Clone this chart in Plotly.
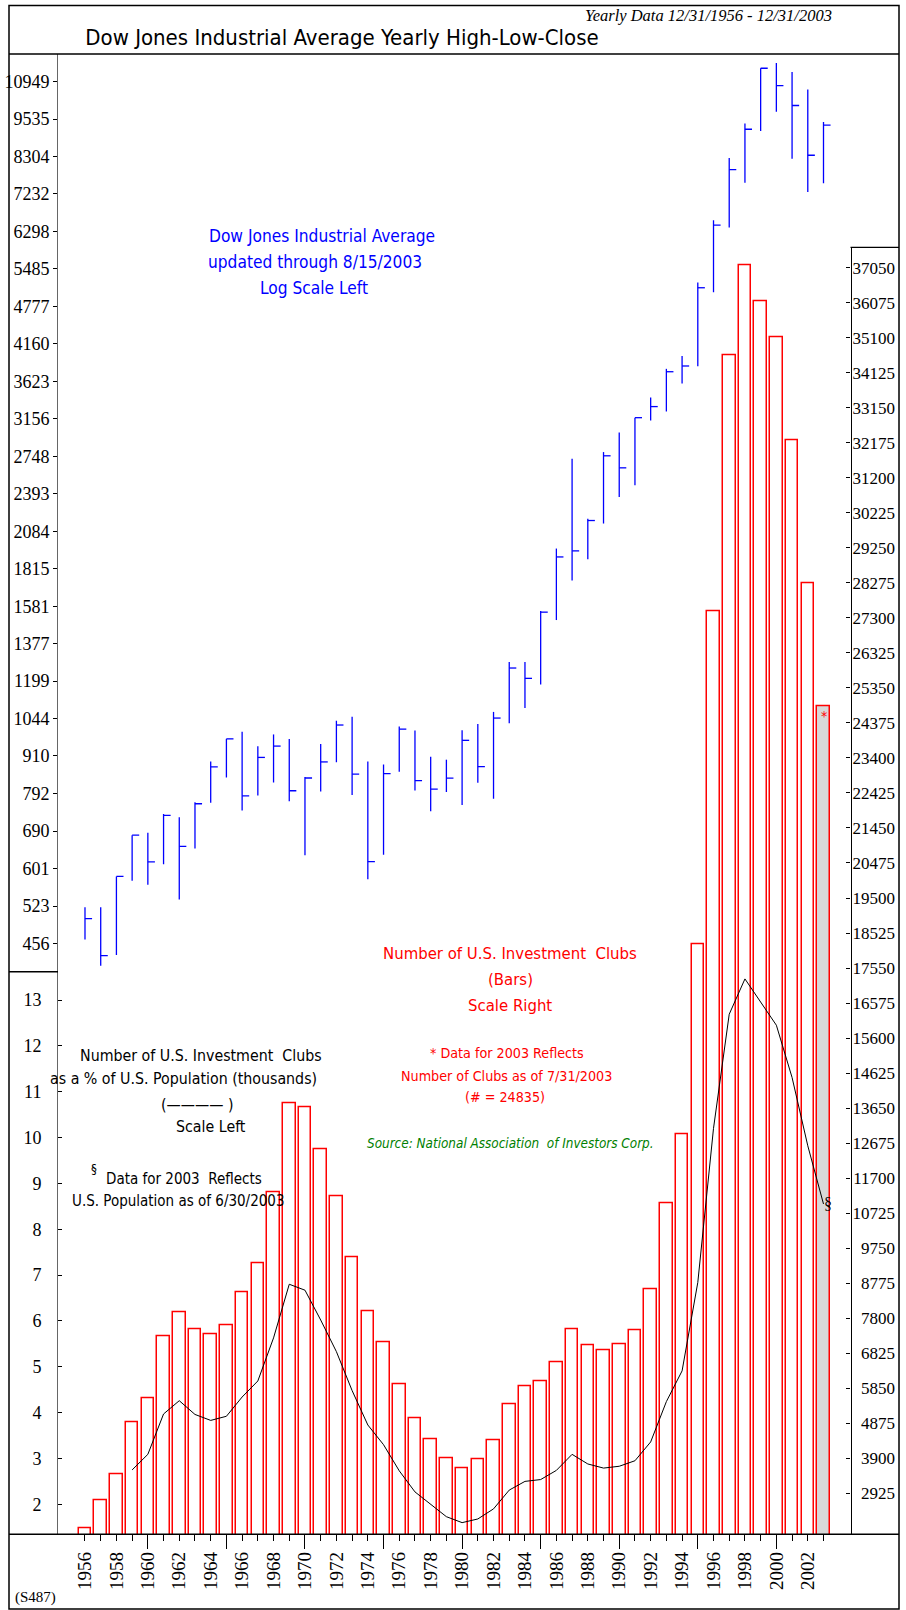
import plotly.graph_objects as go

# ---------------- data ----------------
years = list(range(1956, 2004))

dow_high = [521.05, 520.77, 583.65, 679.36, 685.47, 734.91, 726.01, 767.21, 891.71, 969.26,
            995.15, 943.08, 985.21, 968.85, 842.00, 950.82, 1036.27, 1051.70, 891.66, 881.81,
            1014.79, 999.75, 907.74, 897.61, 1000.17, 1024.05, 1070.55, 1287.20, 1286.64, 1553.10,
            1955.57, 2722.42, 2183.50, 2791.41, 2999.75, 3168.83, 3413.21, 3794.33, 3978.36, 5216.47,
            6560.91, 8259.31, 9374.27, 11497.12, 11722.98, 11337.92, 10635.25, 9428.90]
dow_low = [462.35, 419.79, 436.89, 574.46, 566.05, 610.25, 535.76, 646.79, 766.08, 840.59,
           744.32, 786.41, 825.13, 769.93, 631.16, 797.97, 889.15, 788.31, 577.60, 632.04,
           858.71, 800.85, 742.12, 796.67, 759.13, 824.01, 776.92, 1027.04, 1086.57, 1184.96,
           1502.29, 1738.74, 1879.14, 2144.64, 2365.10, 2470.30, 3136.58, 3241.95, 3593.35, 3832.08,
           5032.94, 6391.69, 7539.07, 9120.67, 9796.03, 8235.81, 7286.27, 7524.06]
dow_close = [499.47, 435.69, 583.65, 679.36, 615.89, 731.14, 652.10, 762.95, 874.13, 969.26,
             785.69, 905.11, 943.75, 800.36, 838.92, 890.20, 1020.02, 850.86, 616.24, 852.41,
             1004.65, 831.17, 805.01, 838.74, 963.99, 875.00, 1046.54, 1258.64, 1211.57, 1546.67,
             1895.95, 1938.83, 2168.57, 2753.20, 2633.66, 3168.83, 3301.11, 3754.09, 3834.44, 5117.12,
             6448.27, 7908.25, 9181.43, 11497.12, 10786.85, 10021.50, 8341.63, 9321.69]

club_counts = [1952, 2740, 3445, 4893, 5580, 7295, 7952, 7496, 7354, 7613,
               8526, 9325, 11299, 13788, 13674, 12502, 11185, 9497, 7983, 7125,
               5950, 5006, 4436, 3893, 3634, 3865, 4408, 5407, 5895, 6037,
               6582, 7496, 7039, 6894, 7067, 7468, 8612, 11012, 12930, 18220,
               27486, 34608, 37125, 36123, 35123, 32233, 28257, 24835]

pct_years = list(range(1959, 2004))
pct_population = [2.75, 3.09, 3.97, 4.26, 3.96, 3.83, 3.92, 4.34, 4.69, 5.63,
                  6.80, 6.67, 6.02, 5.33, 4.48, 3.73, 3.30, 2.73, 2.27, 1.99,
                  1.73, 1.60, 1.68, 1.90, 2.31, 2.50, 2.54, 2.74, 3.09, 2.88,
                  2.79, 2.83, 2.95, 3.36, 4.24, 4.91, 6.84, 10.20, 12.69, 13.46,
                  12.95, 12.45, 11.31, 9.82, 8.55]

dow_ticks = [456, 523, 601, 690, 792, 910, 1044, 1199, 1377, 1581, 1815, 2084, 2393, 2748,
             3156, 3623, 4160, 4777, 5485, 6298, 7232, 8304, 9535, 10949]
pct_ticks = [2, 3, 4, 5, 6, 7, 8, 9, 10, 11, 12, 13]
club_ticks = [2925, 3900, 4875, 5850, 6825, 7800, 8775, 9750, 10725, 11700, 12675, 13650,
              14625, 15600, 16575, 17550, 18525, 19500, 20475, 21450, 22425, 23400, 24375,
              25350, 26325, 27300, 28275, 29250, 30225, 31200, 32175, 33150, 34125, 35100,
              36075, 37050]
year_labels = [str(y) if y % 2 == 0 else "" for y in years]
major_year_ticks = [1960, 1965, 1970, 1975, 1980, 1985, 1990, 1995, 2000]

# ---------------- geometry helpers ----------------
W, H = 906, 1610


def fx(px):
    return px / W


def fy(py):
    return 1 - py / H


SERIF = "Liberation Serif, Times New Roman, serif"
NARROW = "Liberation Sans Narrow, Arial Narrow, DejaVu Sans Condensed, sans-serif"

TICK_W = 0.45  # close-tick length in years
X_RANGE = [1954.282, 2007.805]
Y_DOW_RANGE = [2.61347, 4.08344]
Y_CLUB_RANGE = [1783.4, 37618]
Y_PCT_RANGE = [1.3457, 13.6172]

fig = go.Figure()

# Investment club bars (right scale)
bar_fill = ["white"] * (len(years) - 1) + ["#d9d9d9"]
fig.add_trace(go.Bar(x=years, y=club_counts, xaxis="x", yaxis="y2", width=0.8,
                     marker=dict(color=bar_fill, line=dict(color="#ff0000", width=1.5)),
                     hoverinfo="x+y", showlegend=False))

# Dow HLC
hx, hy = [], []
for yr, h, l, c in zip(years, dow_high, dow_low, dow_close):
    hx += [yr, yr, None, yr, yr + TICK_W, None]
    hy += [l, h, None, c, c, None]
fig.add_trace(go.Scatter(x=hx, y=hy, xaxis="x", yaxis="y", mode="lines",
                         line=dict(color="#0000ff", width=1.3), showlegend=False,
                         hoverinfo="skip"))

# Clubs as % of population line (left bottom scale)
fig.add_trace(go.Scatter(x=pct_years, y=pct_population, xaxis="x", yaxis="y3", mode="lines",
                         line=dict(color="black", width=1), showlegend=False))

# helper (empty) traces so the extra axes get drawn
fig.add_trace(go.Scatter(x=[], y=[], xaxis="x2", yaxis="y3", showlegend=False, hoverinfo="skip"))
fig.add_trace(go.Scatter(x=[], y=[], xaxis="x", yaxis="y4", showlegend=False, hoverinfo="skip"))

fig.update_layout(
    width=W, height=H,
    margin=dict(l=0, r=0, t=0, b=0),
    paper_bgcolor="white", plot_bgcolor="rgba(0,0,0,0)",
    showlegend=False, bargap=0,
    title=dict(text="Dow Jones Industrial Average Yearly High-Low-Close",
               x=fx(342), y=fy(37), xref="paper", yref="paper", xanchor="center", yanchor="middle",
               font=dict(family=NARROW, size=22, color="black")),
    xaxis=dict(domain=[fx(58), fx(899)], range=X_RANGE, anchor="y3",
               tickmode="array", tickvals=years, ticktext=year_labels,
               ticks="outside", ticklen=6, tickcolor="black", tickwidth=1,
               tickangle=-90, tickfont=dict(family=SERIF, size=19, color="black"),
               ticklabelstandoff=3,
               showline=False, showgrid=False, zeroline=False),
    xaxis2=dict(overlaying="x", anchor="y3", range=X_RANGE,
                tickmode="array", tickvals=major_year_ticks, ticks="outside", ticklen=14,
                tickcolor="black", tickwidth=1, showticklabels=False,
                showline=False, showgrid=False, zeroline=False),
    yaxis=dict(type="log", domain=[fy(971.7), fy(54)], range=Y_DOW_RANGE, anchor="x",
               tickmode="array", tickvals=dow_ticks, ticktext=[str(t) for t in dow_ticks],
               ticks="outside", ticklen=4, tickcolor="black",
               tickfont=dict(family=SERIF, size=18, color="black"),
               showline=True, linecolor="#666666", linewidth=1,
               showgrid=False, zeroline=False),
    yaxis2=dict(domain=[fy(1534.3), fy(247.3)], range=Y_CLUB_RANGE, anchor="free",
                position=fx(850.5), side="right",
                tickmode="array", tickvals=club_ticks, ticks="inside", ticklen=4,
                tickcolor="black", showticklabels=False,
                showline=True, linecolor="black", linewidth=1.2,
                showgrid=False, zeroline=False),
    yaxis4=dict(domain=[fy(1534.3), fy(247.3)], range=Y_CLUB_RANGE, anchor="free",
                position=fx(895), side="left",
                tickmode="array", tickvals=club_ticks, ticktext=[str(t) for t in club_ticks],
                ticks="", tickfont=dict(family=SERIF, size=17, color="black"),
                showline=False, showgrid=False, zeroline=False),
    yaxis3=dict(domain=[fy(1534.3), fy(971.7)], range=Y_PCT_RANGE, anchor="x",
                tickmode="array", tickvals=pct_ticks, ticktext=[str(t) for t in pct_ticks],
                ticks="inside", ticklen=4, tickcolor="black", ticklabelstandoff=12,
                tickfont=dict(family=SERIF, size=18, color="black"),
                showline=True, linecolor="#666666", linewidth=1,
                showgrid=False, zeroline=False),
)

# frame and separators
shapes = [
    dict(type="rect", xref="paper", yref="paper", x0=fx(9), x1=fx(899), y0=fy(1609), y1=fy(5.5),
         line=dict(color="black", width=1.5)),
    dict(type="line", xref="paper", yref="paper", x0=fx(9), x1=fx(899), y0=fy(54), y1=fy(54),
         line=dict(color="black", width=1.5)),
    dict(type="line", xref="paper", yref="paper", x0=fx(9), x1=fx(58), y0=fy(971.7), y1=fy(971.7),
         line=dict(color="black", width=1.5)),
    dict(type="line", xref="paper", yref="paper", x0=fx(9), x1=fx(899), y0=fy(1534.3), y1=fy(1534.3),
         line=dict(color="black", width=1.5)),
    dict(type="line", xref="paper", yref="paper", x0=fx(850.5), x1=fx(899), y0=fy(247.3), y1=fy(247.3),
         line=dict(color="black", width=1.2)),
]
fig.update_layout(shapes=shapes)


def note(text, px, py, size, color="black", family=NARROW, xanchor="center", style="normal"):
    fig.add_annotation(text=text, x=fx(px), y=fy(py), xref="paper", yref="paper",
                       showarrow=False, xanchor=xanchor, yanchor="middle",
                       font=dict(family=family, size=size, color=color, style=style))


note("Yearly Data 12/31/1956 - 12/31/2003", 834, 15.5, 16.5, family=SERIF, xanchor="right", style="italic")

note("Dow Jones Industrial Average", 321.5, 236, 17.2, color="#0000ff")
note("updated through 8/15/2003", 315.4, 262, 17.2, color="#0000ff")
note("Log Scale Left", 314.3, 288, 17.2, color="#0000ff")

note("Number of U.S. Investment  Clubs", 510, 953, 16.6, color="#ff0000")
note("(Bars)", 510.5, 979, 16.6, color="#ff0000")
note("Scale Right", 510, 1005.6, 16.6, color="#ff0000")

note("* Data for 2003 Reflects", 507, 1053, 14.2, color="#ff0000")
note("Number of Clubs as of 7/31/2003", 506.4, 1075.5, 14.2, color="#ff0000")
note("(# = 24835)", 505, 1097, 14.2, color="#ff0000")

note("Source: National Association  of Investors Corp.", 510.5, 1143.3, 13.4, color="#008000", style="italic")

note("Number of U.S. Investment  Clubs", 201.3, 1055, 15.8)
note("as a % of U.S. Population (thousands)", 183.9, 1078.6, 15.8)
note("(———— )", 196.7, 1104, 15.8)
note("Scale Left", 210.6, 1126.8, 15.8)

note("§", 94, 1168, 13)
note("Data for 2003  Reflects", 183.5, 1179, 15)
note("U.S. Population as of 6/30/2003", 178.2, 1200.8, 15)

note("§", 828, 1203, 16, family=SERIF)
note("*", 823.5, 716, 14, color="#ff0000", family=NARROW)
note("(S487)", 35, 1597, 15, family=SERIF)

fig.write_html("out.html", config={"displayModeBar": False},
               post_script="document.body.style.margin='0px';")
